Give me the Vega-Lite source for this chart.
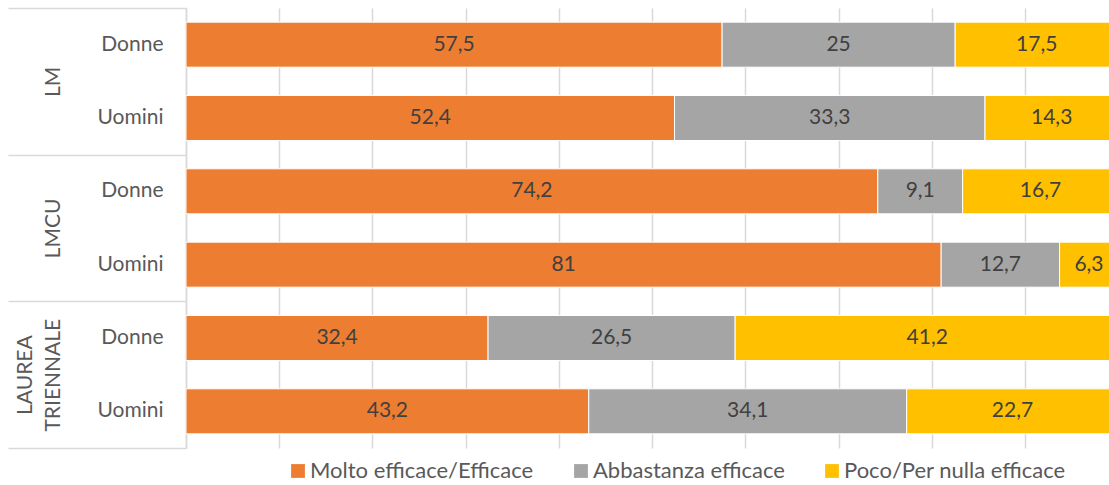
{
  "$schema": "https://vega.github.io/schema/vega-lite/v6.json",
  "width": 923,
  "height": 440,
  "autosize": {"type": "none"},
  "padding": {"left": 186, "top": 8, "right": 0, "bottom": 37},
  "background": "white",
  "config": {
    "locale": {"number": {"decimal": ",", "thousands": ".", "grouping": [3], "currency": ["", " €"]}},
    "view": {"stroke": null},
    "font": "Lato"
  },
  "data": {"values": [
    {"group": "LM", "gender": "Donne", "cat": "Molto efficace/Efficace", "value": 57.5},
    {"group": "LM", "gender": "Donne", "cat": "Abbastanza efficace", "value": 25},
    {"group": "LM", "gender": "Donne", "cat": "Poco/Per nulla efficace", "value": 17.5},
    {"group": "LM", "gender": "Uomini", "cat": "Molto efficace/Efficace", "value": 52.4},
    {"group": "LM", "gender": "Uomini", "cat": "Abbastanza efficace", "value": 33.3},
    {"group": "LM", "gender": "Uomini", "cat": "Poco/Per nulla efficace", "value": 14.3},
    {"group": "LMCU", "gender": "Donne", "cat": "Molto efficace/Efficace", "value": 74.2},
    {"group": "LMCU", "gender": "Donne", "cat": "Abbastanza efficace", "value": 9.1},
    {"group": "LMCU", "gender": "Donne", "cat": "Poco/Per nulla efficace", "value": 16.7},
    {"group": "LMCU", "gender": "Uomini", "cat": "Molto efficace/Efficace", "value": 81},
    {"group": "LMCU", "gender": "Uomini", "cat": "Abbastanza efficace", "value": 12.7},
    {"group": "LMCU", "gender": "Uomini", "cat": "Poco/Per nulla efficace", "value": 6.3},
    {"group": "LAUREA TRIENNALE", "gender": "Donne", "cat": "Molto efficace/Efficace", "value": 32.4},
    {"group": "LAUREA TRIENNALE", "gender": "Donne", "cat": "Abbastanza efficace", "value": 26.5},
    {"group": "LAUREA TRIENNALE", "gender": "Donne", "cat": "Poco/Per nulla efficace", "value": 41.2},
    {"group": "LAUREA TRIENNALE", "gender": "Uomini", "cat": "Molto efficace/Efficace", "value": 43.2},
    {"group": "LAUREA TRIENNALE", "gender": "Uomini", "cat": "Abbastanza efficace", "value": 34.1},
    {"group": "LAUREA TRIENNALE", "gender": "Uomini", "cat": "Poco/Per nulla efficace", "value": 22.7}
  ]},
  "transform": [
    {"calculate": "datum.group + '|' + datum.gender", "as": "row"},
    {"calculate": "indexof(['Molto efficace/Efficace','Abbastanza efficace','Poco/Per nulla efficace'], datum.cat)", "as": "ord"},
    {"stack": "value", "groupby": ["row"], "sort": [{"field": "ord", "order": "ascending"}], "as": ["v0", "v1"], "offset": "zero"},
    {"calculate": "(datum.v0 + datum.v1) / 2", "as": "mid"}
  ],
  "layer": [
    {
      "encoding": {
        "y": {
          "field": "row", "type": "nominal",
          "scale": {"type": "band", "domain": ["LM|Donne", "LM|Uomini", "LMCU|Donne", "LMCU|Uomini", "LAUREA TRIENNALE|Donne", "LAUREA TRIENNALE|Uomini"], "paddingInner": 0.386, "paddingOuter": 0.193},
          "axis": {
            "orient": "left", "title": null, "ticks": false, "grid": false,
            "domain": true, "domainColor": "#d9d9d9", "domainWidth": 1.5,
            "labelExpr": "split(datum.value, '|')[1]",
            "labelPadding": 23, "labelFont": "Lato", "labelFontSize": 21, "labelColor": "#595959",
            "labelAlign": "right", "labelBaseline": "middle"
          }
        }
      },
      "layer": [
        {
          "mark": {"type": "bar", "clip": true, "stroke": "white", "strokeWidth": 1},
          "encoding": {
            "x": {
              "field": "v0", "type": "quantitative",
              "scale": {"domain": [0, 99], "nice": false, "zero": false},
              "axis": {"title": null, "labels": false, "ticks": false, "domain": false, "grid": true, "values": [0, 10, 20, 30, 40, 50, 60, 70, 80, 90], "gridColor": "#d9d9d9", "gridWidth": 1.5}
            },
            "x2": {"field": "v1"},
            "color": {
              "field": "cat", "type": "nominal",
              "scale": {"domain": ["Molto efficace/Efficace", "Abbastanza efficace", "Poco/Per nulla efficace"], "range": ["#ED7D31", "#A5A5A5", "#FFC000"]},
              "legend": {
                "orient": "none", "legendX": 101, "legendY": 452, "direction": "horizontal", "title": null,
                "symbolType": "square", "symbolSize": 190, "symbolStrokeWidth": 0,
                "labelFont": "Lato", "labelFontSize": 22, "labelColor": "#595959",
                "labelOffset": 1, "columnPadding": 36, "padding": 0, "labelLimit": 400
              }
            }
          }
        },
        {
          "mark": {"type": "text", "font": "Lato", "fontSize": 21, "color": "#404040", "align": "center", "baseline": "middle"},
          "encoding": {
            "x": {
              "field": "mid", "type": "quantitative",
              "axis": {"title": null, "labels": false, "ticks": false, "domain": false, "grid": true, "values": [0, 10, 20, 30, 40, 50, 60, 70, 80, 90], "gridColor": "#d9d9d9", "gridWidth": 1.5}
            },
            "text": {"field": "value", "type": "quantitative", "format": ".1~f"}
          }
        }
      ]
    },
    {
      "mark": {"type": "text", "text": ""},
      "encoding": {
        "y": {
          "field": "group", "type": "nominal",
          "scale": {"type": "band", "domain": ["LM", "LMCU", "LAUREA TRIENNALE"], "paddingInner": 0, "paddingOuter": 0},
          "axis": {
            "orient": "left", "title": null, "domain": false, "grid": false,
            "ticks": true, "tickBand": "extent", "tickSize": 178, "tickColor": "#d9d9d9", "tickWidth": 1.5,
            "labelAngle": -90, "labelAlign": "center", "labelBaseline": "bottom",
            "labelPadding": -27,
            "labelExpr": "datum.value ? (indexof(datum.value, ' ') > 0 ? split(datum.value, ' ') : ['', datum.value]) : ''",
            "labelLineHeight": 28,
            "labelFont": "Lato", "labelFontSize": 21, "labelColor": "#595959"
          }
        }
      }
    }
  ],
  "resolve": {"scale": {"y": "independent"}, "axis": {"y": "independent"}}
}
